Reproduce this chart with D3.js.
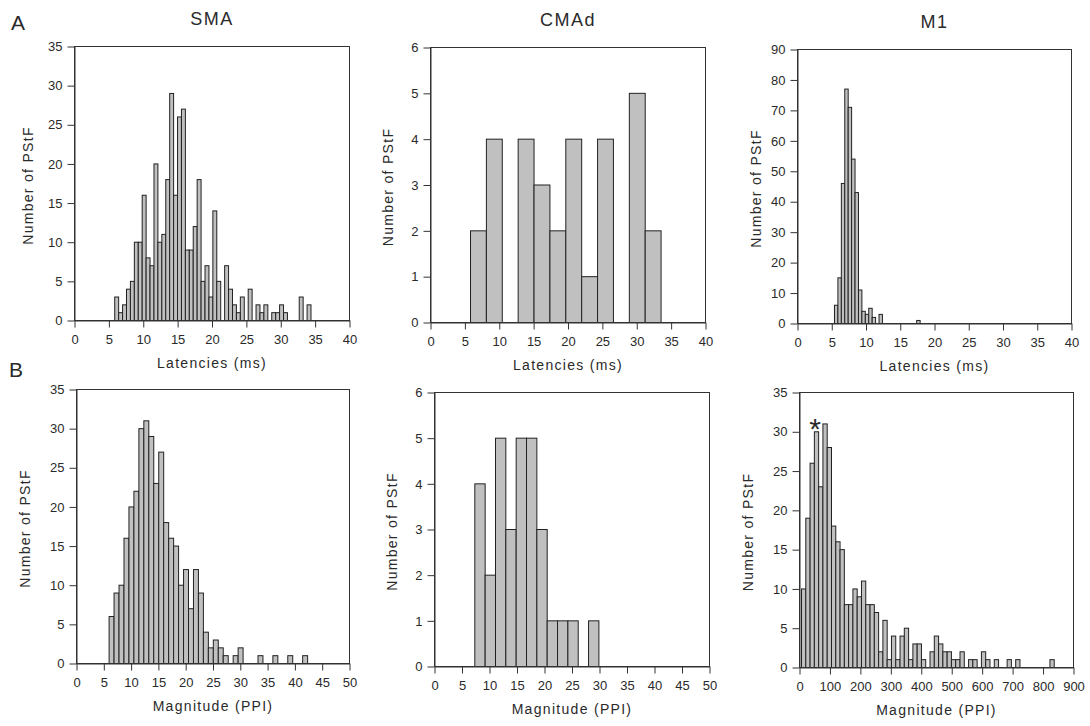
<!DOCTYPE html>
<html>
<head>
<meta charset="utf-8">
<script src="https://cdn.jsdelivr.net/npm/d3@7"></script>
<style>
body { margin: 0; background: #fff; }
text { font-family: "Liberation Sans", Arial, sans-serif; fill: #2a2a2a; }
</style>
</head>
<body>
<svg id="fig" width="1090" height="726"></svg>
<script>
// ---- data (counts per bin, bin start and bin width in axis units) ----
var smaLatCounts = [3,1,2,4,5,10,10,16,8,7,20,10,11,18,29,16,26,27,9,9,12,18,5,7,3,14,5,0,7,4,
                    2,1,3,0,4,0,2,1,2,0,1,1,2,1,0,0,0,3,0,2]
var smaLatStart = 5.85, smaLatBin = 0.571

var cmaLatCounts = [2,4,0,4,3,2,4,1,4,0,5,2]
var cmaLatStart = 5.82, cmaLatBin = 2.31

var m1LatCounts = [6,15,46,77,71,54,43,11,4,3,5,2,0,3,0,0,0,0,0,0,0,0,0,0,1]
var m1LatStart = 5.4, m1LatBin = 0.5

var smaMagCounts = [6,9,10,16,20,22,30,31,29,23,27,18,16,15,10,12,7,12,9,4,2,3,2,1,0,1,2,
                    0,0,0,1,0,0,1,0,0,1,0,0,1]
var smaMagStart = 5.97, smaMagBin = 0.909

var cmaMagCounts = [4,2,5,3,5,5,3,1,1,1,0,1]
var cmaMagStart = 7.33, cmaMagBin = 1.88

var m1MagCounts = [10,19,26,30,23,31,28,18,16,15,8,8,10,9,11,8,8,7,2,6,1,4,1,4,5,1,3,3,1,0,
                   2,4,3,2,2,1,1,2,0,1,1,0,2,1,0,1,0,0,1,0,1,0,0,0,0,0,0,0,1]
var m1MagStart = 6.6, m1MagBin = 14.07

var areaNames = ['SMA', 'CMAd', 'M1']
var rowLetters = ['A', 'B']
var xTitles = ['Latencies (ms)', 'Magnitude (PPI)']
var yTitle = 'Number of PStF'

// ---- layout ----
var panels = [
  {row:0, col:0, left:74,  top:46,  w:275, h:274, xMax:40,  xStep:5,   yMax:35, yStep:5,  counts:smaLatCounts, start:smaLatStart, bin:smaLatBin, yOff:46},
  {row:0, col:1, left:430, top:47,  w:275, h:275, xMax:40,  xStep:5,   yMax:6,  yStep:1,  counts:cmaLatCounts, start:cmaLatStart, bin:cmaLatBin, yOff:42},
  {row:0, col:2, left:797, top:49,  w:274, h:274, xMax:40,  xStep:5,   yMax:90, yStep:10, counts:m1LatCounts,  start:m1LatStart,  bin:m1LatBin,  yOff:41},
  {row:1, col:0, left:76,  top:389, w:273, h:274, xMax:50,  xStep:5,   yMax:35, yStep:5,  counts:smaMagCounts, start:smaMagStart, bin:smaMagBin, yOff:51},
  {row:1, col:1, left:434, top:392, w:275, h:274, xMax:50,  xStep:5,   yMax:6,  yStep:1,  counts:cmaMagCounts, start:cmaMagStart, bin:cmaMagBin, yOff:42},
  {row:1, col:2, left:799, top:392, w:274, h:275, xMax:900, xStep:100, yMax:35, yStep:5,  counts:m1MagCounts,  start:m1MagStart,  bin:m1MagBin,  yOff:51}
]

var svg = d3.select('#fig')

panels.forEach(function(p) {
  var g = svg.append('g')
    .attr('transform', 'translate(' + (p.left + 0.5) + ',' + (p.top + 0.5) + ')')

  var x = d3.scaleLinear().domain([0, p.xMax]).range([0, p.w])
  var y = d3.scaleLinear().domain([0, p.yMax]).range([p.h, 0])

  var bins = p.counts.map(function(c, i) { return {i: i, c: c} })
    .filter(function(d) { return d.c > 0 })

  g.selectAll('rect.bar')
    .data(bins)
    .enter()
    .append('rect')
    .attr('class', 'bar')
    .attr('x', function(d) { return x(p.start + d.i * p.bin) })
    .attr('y', function(d) { return y(d.c) })
    .attr('width', function(d) { return x(p.start + (d.i + 1) * p.bin) - x(p.start + d.i * p.bin) })
    .attr('height', function(d) { return y(0) - y(d.c) })
    .attr('fill', '#c0c0c0')
    .attr('stroke', '#222')
    .attr('stroke-width', 1)

  // frame
  g.append('rect')
    .attr('width', p.w)
    .attr('height', p.h)
    .attr('fill', 'none')
    .attr('stroke', '#333')

  var xAxis = d3.axisBottom(x)
    .tickValues(d3.range(0, p.xMax + 1e-9, p.xStep))
    .tickFormat(d3.format('d'))
    .tickSize(7).tickPadding(7).tickSizeOuter(0)
  var yAxis = d3.axisLeft(y)
    .tickValues(d3.range(0, p.yMax + 1e-9, p.yStep))
    .tickFormat(d3.format('d'))
    .tickSize(7).tickPadding(5).tickSizeOuter(0)

  var gx = g.append('g').attr('transform', 'translate(0,' + p.h + ')').call(xAxis)
  var gy = g.append('g').call(yAxis)
  ;[gx, gy].forEach(function(a) {
    a.select('.domain').attr('stroke', '#333')
    a.selectAll('.tick line').attr('stroke', '#333')
    a.selectAll('.tick text')
      .attr('fill', '#2a2a2a')
      .style('font-size', '13px')
      .style('font-family', '"Liberation Sans", Arial, sans-serif')
  })

  // x title
  g.append('text')
    .attr('x', p.w / 2)
    .attr('y', p.h + 47)
    .attr('text-anchor', 'middle')
    .style('font-size', '14px')
    .style('letter-spacing', '1.3px')
    .text(xTitles[p.row])

  // y title
  g.append('text')
    .attr('transform', 'translate(' + (-p.yOff + 4.5) + ',' + (p.h / 2 + 2) + ') rotate(-90)')
    .attr('text-anchor', 'middle')
    .style('font-size', '14px')
    .style('letter-spacing', '1.3px')
    .text(yTitle)

  if (p.row === 0) {
    g.append('text')
      .attr('x', p.w / 2)
      .attr('y', -22)
      .attr('text-anchor', 'middle')
      .style('font-size', '18px')
      .style('letter-spacing', '1.5px')
      .text(areaNames[p.col])
  }

  if (p.row === 1 && p.col === 2) {
    g.append('text')
      .attr('x', x(51))
      .attr('y', y(31.3) + 17)
      .attr('text-anchor', 'middle')
      .style('font-size', '30px')
      .text('*')
  }
})

// row letters
svg.selectAll('text.rowLetter')
  .data(rowLetters)
  .enter()
  .append('text')
  .attr('class', 'rowLetter')
  .attr('x', function(d, i) { return i === 0 ? 11 : 9 })
  .attr('y', function(d, i) { return i === 0 ? 30 : 377 })
  .style('font-size', '21px')
  .text(function(d) { return d })
</script>
</body>
</html>
